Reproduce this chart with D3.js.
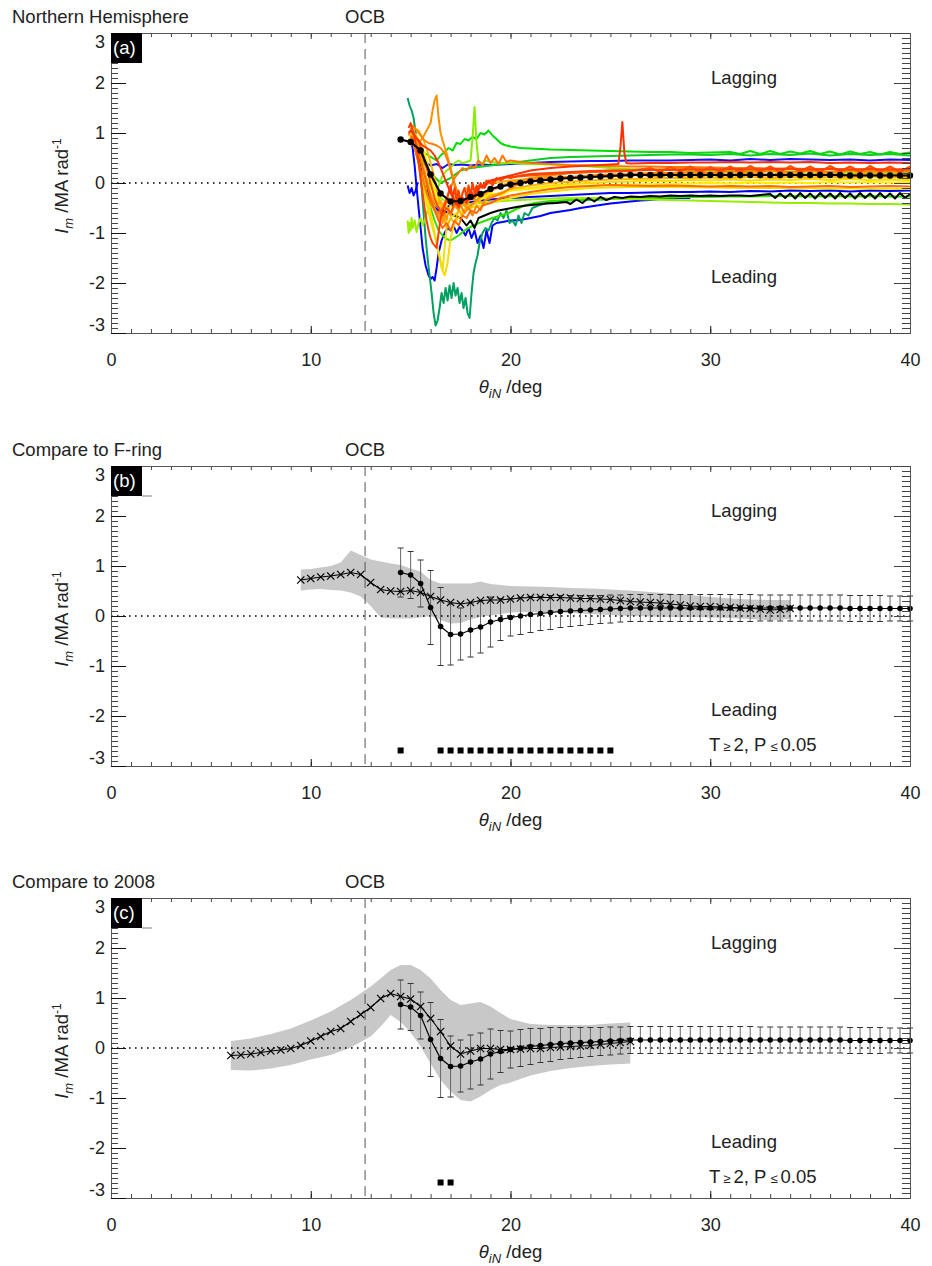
<!DOCTYPE html>
<html><head><meta charset="utf-8">
<script src="https://cdn.jsdelivr.net/npm/d3@7"></script>
<style>
body{margin:0;background:#fff}
svg{display:block}
text{font-family:"Liberation Sans",Arial,sans-serif;fill:#222}
</style></head>
<body><svg id="c" width="932" height="1266"></svg>
<script>
// ---------------- DATA ----------------
const xTicks = [0, 10, 20, 30, 40];
const yTicks = [-3, -2, -1, 0, 1, 2, 3];
const panelTitles = ["Northern Hemisphere", "Compare to F-ring", "Compare to 2008"];
const panelLabels = ["(a)", "(b)", "(c)"];
const ocbLat = 12.72;

// mean Northern Hemisphere profile (dots) and its error bars
const meanPts = [[14.5,0.87],[15,0.82],[15.5,0.65],[16,0.17],[16.5,-0.21],[17,-0.37],[17.5,-0.36],[18,-0.28],[18.5,-0.22],[19,-0.12],[19.5,-0.07],[20,-0.03],[20.5,0.0],[21,0.03],[21.5,0.05],[22,0.07],[22.5,0.09],[23,0.10],[23.5,0.11],[24,0.12],[24.5,0.13],[25,0.14],[25.5,0.15],[26,0.16],[26.5,0.16],[27,0.16],[27.5,0.16],[28,0.16],[28.5,0.16],[29,0.16],[29.5,0.16],[30,0.16],[30.5,0.16],[31,0.16],[31.5,0.16],[32,0.16],[32.5,0.16],[33,0.16],[33.5,0.16],[34,0.16],[34.5,0.16],[35,0.16],[35.5,0.16],[36,0.16],[36.5,0.16],[37,0.15],[37.5,0.15],[38,0.15],[38.5,0.15],[39,0.15],[39.5,0.15],[40,0.15]];
const meanErr = [0.49,0.47,0.47,0.74,0.78,0.61,0.52,0.54,0.52,0.50,0.42,0.37,0.37,0.36,0.34,0.34,0.32,0.31,0.30,0.29,0.28,0.28,0.27,0.27,0.27,0.27,0.27,0.27,0.27,0.27,0.27,0.27,0.27,0.27,0.27,0.27,0.26,0.26,0.26,0.26,0.26,0.26,0.26,0.26,0.26,0.26,0.26,0.26,0.26,0.25,0.25,0.25];

// F-ring comparison profile (crosses) and spread band
const fringPts = [[9.5,0.72],[10,0.75],[10.5,0.78],[11,0.80],[11.5,0.83],[12,0.87],[12.5,0.83],[13,0.67],[13.5,0.53],[14,0.50],[14.5,0.49],[15,0.51],[15.5,0.47],[16,0.39],[16.5,0.32],[17,0.27],[17.5,0.24],[18,0.27],[18.5,0.31],[19,0.32],[19.5,0.32],[20,0.34],[20.5,0.36],[21,0.37],[21.5,0.37],[22,0.37],[22.5,0.37],[23,0.36],[23.5,0.35],[24,0.35],[24.5,0.34],[25,0.33],[25.5,0.31],[26,0.29],[26.5,0.28],[27,0.27],[27.5,0.26],[28,0.24],[28.5,0.22],[29,0.20],[29.5,0.19],[30,0.19],[30.5,0.18],[31,0.17],[31.5,0.16],[32,0.15],[32.5,0.14],[33,0.12],[33.5,0.13],[34,0.15]];
const fringBandX = [9.5,10,10.5,11,11.5,12,12.5,13,13.5,14,14.5,15,15.5,16,16.5,17,17.5,18,18.5,19,19.5,20,21,22,23,24,25,26,27,28,29,30,31,32,33,34];
const fringBandHi = [0.93,0.94,0.97,1.0,1.07,1.31,1.22,1.13,1.09,1.05,1.02,0.95,0.89,0.72,0.65,0.65,0.65,0.65,0.69,0.64,0.62,0.60,0.59,0.58,0.56,0.55,0.53,0.51,0.48,0.45,0.42,0.38,0.35,0.33,0.32,0.32];
const fringBandLo = [0.51,0.53,0.54,0.52,0.51,0.47,0.39,0.20,-0.03,-0.05,-0.05,-0.05,-0.03,0.0,-0.08,-0.15,-0.14,-0.07,-0.02,0.01,0.04,0.07,0.08,0.07,0.06,0.04,0.02,0.0,-0.01,-0.02,-0.02,-0.03,-0.04,-0.06,-0.09,-0.06];
const fringSig = [14.5,16.5,17,17.5,18,18.5,19,19.5,20,20.5,21,21.5,22,22.5,23,23.5,24,24.5,25];

// 2008 comparison profile (crosses) and spread band
const y2008Pts = [[6,-0.15],[6.5,-0.14],[7,-0.12],[7.5,-0.09],[8,-0.06],[8.5,-0.04],[9,-0.01],[9.5,0.05],[10,0.14],[10.5,0.23],[11,0.33],[11.5,0.39],[12,0.53],[12.5,0.67],[13,0.81],[13.5,0.99],[14,1.09],[14.5,1.03],[15,0.98],[15.5,0.83],[16,0.59],[16.5,0.33],[17,0.04],[17.5,-0.12],[18,-0.06],[18.5,-0.01],[19,-0.01],[19.5,-0.03],[20,-0.03],[20.5,-0.02],[21,-0.01],[21.5,-0.01],[22,0.01],[22.5,0.02],[23,0.03],[23.5,0.04],[24,0.05],[24.5,0.07],[25,0.09],[25.5,0.11],[26,0.13]];
const y2008BandX = [6,7,8,9,10,11,12,13,13.5,14,14.5,15,15.5,16,16.5,17,17.5,18,18.5,19,19.5,20,21,22,23,24,25,26];
const y2008BandHi = [0.14,0.19,0.28,0.39,0.55,0.73,0.96,1.23,1.39,1.56,1.66,1.66,1.56,1.39,1.16,0.96,0.86,0.89,0.92,0.83,0.70,0.58,0.48,0.46,0.46,0.46,0.49,0.51];
const y2008BandLo = [-0.44,-0.45,-0.41,-0.34,-0.23,-0.14,0.01,0.23,0.43,0.66,0.52,0.31,0.03,-0.31,-0.64,-0.87,-1.04,-1.07,-0.97,-0.84,-0.74,-0.69,-0.55,-0.46,-0.40,-0.36,-0.33,-0.31];
const y2008Sig = [16.5, 17];

// individual Northern Hemisphere tracks (panel a)
const trackBlueA = [[15.0,0.85],[15.1,0.7],[15.2,0.35],[15.3,-0.1],[15.4,-0.5],[15.5,-0.9],[15.6,-1.3],[15.75,-1.65],[15.9,-1.85],[16.0,-1.92],[16.1,-1.88],[16.2,-1.95],[16.3,-1.7],[16.4,-1.4],[16.55,-1.15],[16.7,-1.0],[16.85,-0.9],[17.0,-0.95],[17.15,-0.85],[17.3,-1.0],[17.45,-0.88],[17.6,-0.95],[17.75,-1.05],[17.9,-0.9],[18.05,-1.1],[18.2,-0.95],[18.35,-1.2],[18.5,-1.05],[18.65,-1.3],[18.8,-0.95],[18.95,-1.2],[19.1,-0.85],[19.3,-0.8],[19.6,-0.78],[20.0,-0.75],[20.5,-0.74],[21.0,-0.7],[21.5,-0.66],[22.0,-0.6],[22.5,-0.57],[23.0,-0.54],[23.5,-0.5],[24.0,-0.47],[24.5,-0.44],[25.0,-0.41],[25.5,-0.39],[26,-0.37],[26.5,-0.35],[27,-0.34],[27.5,-0.32],[28,-0.31],[28.5,-0.3],[29,-0.3]];
const trackBlueB = [[15.0,0.9],[15.2,0.8],[15.4,0.6],[15.6,0.45],[15.8,0.4],[16.0,0.35],[16.3,0.38],[16.6,0.3],[16.9,0.38],[17.2,0.36],[17.6,0.37],[18.0,0.35],[18.5,0.37],[19.0,0.36],[19.5,0.37],[20.0,0.38],[21,0.4],[22,0.42],[23,0.43],[24,0.44],[25,0.44],[26,0.45],[27,0.45],[28,0.45],[29,0.46],[30,0.47],[31,0.45],[32,0.48],[33,0.46],[34,0.48],[35,0.47],[36,0.46],[37,0.47],[38,0.45],[39,0.47],[40,0.46]];
const trackBlueC = [[15.1,0.95],[15.3,0.7],[15.5,0.4],[15.7,0.0],[15.9,-0.3],[16.1,-0.45],[16.4,-0.55],[16.7,-0.5],[17,-0.45],[17.5,-0.4],[18,-0.38],[19,-0.33],[20,-0.3],[21,-0.28],[22,-0.26],[23,-0.24],[24,-0.22],[25,-0.2],[26,-0.2],[27,-0.19],[28,-0.18],[29,-0.18],[30,-0.17],[31,-0.18],[32,-0.16],[33,-0.17],[34,-0.15],[35,-0.16],[36,-0.15],[37,-0.17],[38,-0.15],[39,-0.16],[40,-0.15]];
const trackBlueStub = [[14.85,-0.05],[14.95,-0.2],[15.05,-0.1],[15.15,-0.25],[15.25,-0.15],[15.35,0.0]];
const trackTeal = [[14.85,1.7],[14.95,1.55],[15.05,1.45],[15.15,1.3],[15.25,1.0],[15.35,0.65],[15.45,0.3],[15.55,-0.1],[15.65,-0.6],[15.75,-1.1],[15.85,-1.5],[15.95,-1.85],[16.05,-2.2],[16.15,-2.6],[16.25,-2.85],[16.35,-2.75],[16.45,-2.5],[16.55,-2.2],[16.65,-2.4],[16.75,-2.1],[16.85,-2.35],[16.95,-2.05],[17.05,-2.3],[17.15,-2.0],[17.25,-2.25],[17.35,-2.1],[17.45,-2.4],[17.55,-2.2],[17.65,-2.5],[17.75,-2.3],[17.85,-2.6],[17.95,-2.7],[18.05,-2.2],[18.15,-1.8],[18.25,-1.6],[18.35,-1.45],[18.45,-1.2],[18.6,-1.0],[18.75,-0.9],[18.9,-0.95],[19.05,-0.8],[19.2,-0.7],[19.35,-0.75],[19.5,-0.6],[19.65,-0.7],[19.8,-0.55],[19.95,-0.8],[20.1,-0.75],[20.25,-0.85],[20.4,-0.65],[20.55,-0.8],[20.7,-0.6],[20.9,-0.65],[21.1,-0.5],[21.4,-0.45],[21.8,-0.4],[22.3,-0.37],[22.8,-0.35],[23.5,-0.34],[24.5,-0.33],[25.5,-0.31],[26.5,-0.3],[27.5,-0.29],[28.5,-0.28]];
const trackGreenTop = [[15.1,0.95],[15.3,0.85],[15.5,0.7],[15.7,0.6],[15.9,0.55],[16.1,0.5],[16.3,0.45],[16.5,0.55],[16.7,0.62],[16.9,0.7],[17.1,0.65],[17.3,0.8],[17.5,0.78],[17.7,0.88],[17.9,0.85],[18.1,0.92],[18.3,0.88],[18.5,1.0],[18.7,0.97],[18.9,1.05],[19.1,0.95],[19.3,0.88],[19.5,0.8],[19.7,0.76],[20,0.73],[20.5,0.7],[21,0.69],[22,0.67],[23,0.66],[24,0.65],[25,0.64],[26,0.63],[27,0.62],[28,0.62],[29,0.6],[30,0.61],[31,0.62],[31.5,0.58],[32,0.64],[32.5,0.58],[33,0.64],[33.5,0.58],[34,0.63],[34.5,0.59],[35,0.64],[35.5,0.58],[36,0.63],[36.5,0.57],[37,0.63],[37.5,0.58],[38,0.62],[38.5,0.57],[39,0.62],[39.5,0.58],[40,0.61]];
const trackGreenMid = [[15.2,0.8],[15.5,0.5],[16,0.2],[16.5,0.0],[17,0.1],[17.5,0.25],[18,0.3],[19,0.35],[20,0.4],[21,0.45],[22,0.5],[23,0.52],[24,0.53],[25,0.54],[26,0.55],[27,0.56],[28,0.57],[29,0.57],[30,0.56],[31,0.58],[32,0.55],[33,0.58],[34,0.56],[35,0.59],[36,0.55],[37,0.58],[38,0.56],[39,0.58],[40,0.55]];
const trackGreenLow = [[15.2,0.7],[15.4,0.4],[15.6,0.1],[15.8,-0.2],[16.0,-0.5],[16.2,-0.75],[16.4,-0.95],[16.6,-1.05],[16.8,-1.12],[17.0,-1.15],[17.2,-1.1],[17.4,-1.05],[17.6,-0.98],[17.8,-0.92],[18.0,-0.88],[18.3,-0.82],[18.7,-0.76],[19.1,-0.7],[19.5,-0.65],[19.9,-0.6],[20.3,-0.52],[20.7,-0.45],[21.2,-0.4],[22,-0.36],[23,-0.34],[24,-0.33],[25,-0.32],[26,-0.31],[27,-0.3],[28,-0.29],[29,-0.28],[30,-0.28],[31,-0.27],[32,-0.27],[33,-0.26],[34,-0.26],[35,-0.27],[36,-0.26],[37,-0.27],[38,-0.26],[39,-0.27],[40,-0.27]];
const trackLimeSpike = [[15.2,0.85],[15.4,0.6],[15.6,0.35],[15.8,0.1],[16.0,-0.1],[16.2,-0.2],[16.4,-0.05],[16.6,0.15],[16.8,0.25],[17.0,0.3],[17.2,0.4],[17.4,0.45],[17.6,0.4],[17.8,0.42],[18.0,0.45],[18.1,0.9],[18.2,1.52],[18.3,0.8],[18.4,0.42],[18.6,0.4],[18.8,0.45],[19.0,0.42],[19.5,0.4],[20,0.4],[21,0.38],[22,0.37],[23,0.35],[24,0.33],[25,0.3],[26,0.28],[27,0.27],[28,0.26],[29,0.26],[30,0.25],[31,0.25],[32,0.24],[33,0.24],[34,0.23],[35,0.23],[36,0.22],[37,0.22],[38,0.21],[39,0.21],[40,0.2]];
const trackLimeLow = [[14.85,-0.75],[14.9,-1.0],[14.95,-0.8],[15.0,-0.95],[15.05,-0.7],[15.1,-0.9],[15.2,-0.75],[15.3,-0.98],[15.4,-0.8],[15.5,-0.7],[15.6,-0.85],[15.7,-0.75],[15.8,-0.6],[16.0,-0.45],[16.2,-0.35],[16.5,-0.3],[16.8,-0.38],[17.2,-0.42],[17.6,-0.45],[18,-0.42],[18.5,-0.4],[19,-0.38],[20,-0.35],[21,-0.33],[22,-0.31],[23,-0.3],[24,-0.3],[25,-0.31],[26,-0.32],[27,-0.33],[28,-0.34],[29,-0.35],[30,-0.36],[31,-0.37],[32,-0.38],[33,-0.39],[34,-0.4],[35,-0.4],[36,-0.41],[37,-0.41],[38,-0.42],[39,-0.42],[40,-0.43]];
const trackBlack = [[15.0,0.85],[15.2,0.75],[15.4,0.5],[15.6,0.2],[15.8,-0.1],[16.0,-0.3],[16.3,-0.45],[16.6,-0.55],[16.9,-0.6],[17.2,-0.65],[17.5,-0.7],[17.8,-0.85],[18.0,-0.75],[18.2,-0.9],[18.4,-0.7],[18.7,-0.65],[19,-0.6],[19.4,-0.55],[19.8,-0.52],[20.3,-0.48],[20.8,-0.45],[21.3,-0.43],[21.8,-0.41],[22.3,-0.4],[22.8,-0.38],[23.0,-0.42],[23.3,-0.33],[23.6,-0.4],[23.9,-0.3],[24.2,-0.37],[24.5,-0.28],[24.8,-0.34],[25.2,-0.28],[25.6,-0.3],[26,-0.27],[26.5,-0.28],[27,-0.26],[27.5,-0.27],[28,-0.25],[28.5,-0.26],[29,-0.25],[29.5,-0.26],[30,-0.25],[30.5,-0.26],[31,-0.25],[31.5,-0.25],[32,-0.26],[32.5,-0.24],[33,-0.22],[33.25,-0.3],[33.5,-0.21],[33.75,-0.3],[34,-0.21],[34.25,-0.31],[34.5,-0.2],[34.75,-0.3],[35,-0.21],[35.25,-0.31],[35.5,-0.2],[35.75,-0.3],[36,-0.21],[36.25,-0.31],[36.5,-0.2],[36.75,-0.3],[37,-0.21],[37.25,-0.31],[37.5,-0.2],[37.75,-0.3],[38,-0.21],[38.25,-0.31],[38.5,-0.2],[38.75,-0.3],[39,-0.21],[39.25,-0.31],[39.5,-0.2],[39.75,-0.3],[40,-0.22]];
const trackYellowDip = [[15.0,1.0],[15.2,0.9],[15.4,0.7],[15.6,0.3],[15.8,-0.2],[16.0,-0.6],[16.2,-1.0],[16.4,-1.4],[16.55,-1.7],[16.7,-1.85],[16.85,-1.6],[17.0,-1.1],[17.2,-0.8],[17.4,-0.7],[17.6,-0.6],[17.8,-0.5],[18.0,-0.45],[18.3,-0.4],[18.6,-0.3],[19,-0.25],[19.5,-0.2],[20,-0.15],[21,-0.1],[22,-0.05],[23,-0.02],[24,0.0],[25,0.02],[26,0.03],[27,0.05],[28,0.04],[29,0.06],[30,0.05],[31,0.07],[32,0.05],[33,0.07],[34,0.06],[35,0.08],[36,0.06],[37,0.08],[38,0.06],[39,0.07],[40,0.06]];
const trackYellowLow = [[15.1,0.9],[15.3,0.6],[15.5,0.2],[15.7,-0.2],[15.9,-0.6],[16.1,-0.9],[16.3,-1.2],[16.5,-1.55],[16.6,-1.75],[16.7,-1.3],[16.8,-0.9],[17.0,-0.7],[17.3,-0.6],[17.6,-0.55],[18,-0.5],[18.5,-0.45],[19,-0.4],[20,-0.3],[21,-0.22],[22,-0.17],[23,-0.13],[24,-0.1],[25,-0.09],[26,-0.08],[28,-0.08],[30,-0.09],[32,-0.1],[34,-0.1],[36,-0.11],[38,-0.11],[40,-0.12]];
const trackYellow = [[14.9,0.85],[15.1,1.0],[15.3,0.95],[15.5,0.8],[15.7,0.6],[15.9,0.3],[16.1,0.0],[16.3,-0.3],[16.5,-0.5],[16.7,-0.4],[16.9,-0.55],[17.1,-0.35],[17.3,-0.5],[17.5,-0.3],[17.8,-0.4],[18.1,-0.25],[18.5,-0.3],[19,-0.2],[19.5,-0.25],[20,-0.15],[21,-0.12],[22,-0.08],[23,-0.06],[24,-0.05],[25,-0.04],[26,-0.03],[27,-0.02],[28,-0.02],[29,-0.01],[30,0.0],[31,-0.01],[32,0.01],[33,0.0],[34,0.01],[35,0.0],[36,0.02],[37,0.01],[38,0.02],[39,0.01],[40,0.02]];
const trackAmber = [[15.0,0.9],[15.2,1.1],[15.4,1.05],[15.6,0.9],[15.8,0.7],[16.0,0.4],[16.2,0.1],[16.4,-0.3],[16.6,-0.6],[16.8,-0.9],[17.0,-0.7],[17.2,-0.8],[17.4,-0.55],[17.6,-0.65],[17.8,-0.45],[18.0,-0.5],[18.3,-0.35],[18.6,-0.4],[19,-0.25],[19.5,-0.2],[20,-0.12],[21,-0.05],[22,0.0],[23,0.03],[24,0.05],[25,0.07],[26,0.08],[27,0.09],[28,0.1],[29,0.1],[30,0.11],[31,0.1],[32,0.12],[33,0.1],[34,0.12],[35,0.11],[36,0.12],[37,0.11],[38,0.13],[39,0.11],[40,0.12]];
const trackAmberNoisy = [[15.1,0.9],[15.3,0.8],[15.5,0.55],[15.7,0.2],[15.9,-0.1],[16.1,-0.3],[16.3,-0.45],[16.5,-0.35],[16.7,-0.5],[16.9,-0.3],[17.1,-0.4],[17.3,-0.2],[17.5,-0.3],[17.7,-0.1],[18,-0.15],[18.5,-0.05],[19,0.0],[19.5,0.02],[20,0.05],[21,0.08],[22,0.1],[23,0.12],[24,0.13],[25,0.14],[26,0.15],[27,0.16],[27.5,0.1],[28,0.2],[28.5,0.1],[29,0.2],[29.5,0.1],[30,0.21],[30.5,0.1],[31,0.2],[31.5,0.1],[32,0.21],[32.5,0.11],[33,0.2],[33.5,0.1],[34,0.21],[34.5,0.1],[35,0.2],[35.5,0.11],[36,0.21],[36.5,0.1],[37,0.2],[37.5,0.11],[38,0.21],[38.5,0.1],[39,0.2],[39.5,0.11],[40,0.2]];
const trackOrangeSpike = [[15.0,0.75],[15.2,0.85],[15.4,0.8],[15.6,0.9],[15.8,1.05],[16.0,1.2],[16.1,1.45],[16.2,1.65],[16.3,1.75],[16.4,1.3],[16.5,1.0],[16.6,0.85],[16.8,0.6],[17.0,0.3],[17.2,0.0],[17.4,-0.25],[17.6,-0.4],[17.8,-0.5],[18.0,-0.45],[18.3,-0.35],[18.6,-0.25],[19,-0.15],[19.5,-0.08],[20,0.0],[21,0.1],[22,0.15],[23,0.2],[24,0.22],[25,0.25],[26,0.26],[27,0.27],[28,0.28],[29,0.28],[30,0.3],[30.5,0.22],[31,0.32],[31.5,0.24],[32,0.33],[32.5,0.24],[33,0.32],[33.5,0.23],[34,0.33],[34.5,0.24],[35,0.32],[35.5,0.23],[36,0.33],[36.5,0.24],[37,0.32],[37.5,0.23],[38,0.32],[38.5,0.24],[39,0.31],[39.5,0.23],[40,0.3]];
const trackOrangeMid = [[15.0,1.1],[15.2,1.0],[15.4,0.75],[15.6,0.4],[15.8,0.05],[16.0,-0.25],[16.2,-0.5],[16.4,-0.7],[16.5,-0.55],[16.6,-0.8],[16.7,-0.6],[16.8,-0.75],[16.9,-0.5],[17.0,-0.65],[17.2,-0.45],[17.4,-0.55],[17.6,-0.35],[17.8,-0.45],[18.0,-0.3],[18.3,-0.35],[18.6,-0.2],[19,-0.15],[19.5,-0.05],[20,0.0],[21,0.05],[22,0.08],[23,0.1],[24,0.12],[25,0.13],[26,0.14],[26.5,0.2],[27,0.12],[27.5,0.22],[28,0.13],[28.5,0.22],[29,0.12],[29.5,0.23],[30,0.13],[30.5,0.22],[31,0.12],[31.5,0.23],[32,0.13],[32.5,0.22],[33,0.12],[33.5,0.23],[34,0.13],[34.5,0.22],[35,0.12],[35.5,0.23],[36,0.13],[36.5,0.22],[37,0.12],[37.5,0.23],[38,0.13],[38.5,0.22],[39,0.12],[39.5,0.23],[40,0.13]];
const trackOrange = [[14.9,0.95],[15.1,1.15],[15.3,1.05],[15.5,0.95],[15.7,0.85],[15.9,0.8],[16.1,0.78],[16.3,0.75],[16.5,0.7],[16.7,0.6],[16.9,0.4],[17.1,0.1],[17.3,-0.2],[17.5,-0.45],[17.7,-0.6],[17.9,-0.5],[18.1,-0.65],[18.3,-0.45],[18.5,-0.55],[18.7,-0.35],[19,-0.3],[19.3,-0.25],[19.7,-0.18],[20,-0.1],[20.5,0.0],[21,0.05],[22,0.1],[23,0.12],[24,0.15],[25,0.17],[26,0.18],[27,0.2],[28,0.2],[29,0.22],[30,0.21],[31,0.23],[32,0.22],[33,0.24],[34,0.22],[35,0.24],[36,0.22],[37,0.25],[38,0.23],[39,0.24],[40,0.23]];
const trackOrangeHigh = [[15.0,0.9],[15.2,0.7],[15.4,0.4],[15.6,0.1],[15.8,-0.2],[16.0,-0.4],[16.2,-0.55],[16.4,-0.6],[16.6,-0.5],[16.8,-0.3],[17.0,-0.1],[17.2,0.1],[17.4,0.2],[17.6,0.3],[17.8,0.25],[18.0,0.35],[18.2,0.3],[18.4,0.45],[18.6,0.35],[18.8,0.55],[19.0,0.4],[19.2,0.5],[19.4,0.38],[19.6,0.55],[19.8,0.42],[20.0,0.45],[20.5,0.42],[21,0.4],[22,0.38],[23,0.36],[24,0.35],[25,0.34],[26,0.33],[27,0.33],[28,0.32],[29,0.32],[30,0.31],[31,0.3],[32,0.3],[33,0.29],[34,0.29],[35,0.28],[36,0.28],[37,0.27],[38,0.27],[39,0.26],[40,0.26]];
const trackOrangeLow = [[15.0,0.95],[15.2,0.85],[15.4,0.6],[15.6,0.3],[15.8,0.0],[16.0,-0.3],[16.2,-0.55],[16.4,-0.75],[16.6,-0.9],[16.8,-0.8],[17.0,-0.95],[17.2,-0.75],[17.4,-0.85],[17.6,-0.65],[17.8,-0.7],[18.0,-0.55],[18.3,-0.6],[18.6,-0.45],[19,-0.4],[19.5,-0.3],[20,-0.25],[21,-0.18],[22,-0.12],[23,-0.08],[24,-0.06],[25,-0.04],[26,-0.05],[27,-0.06],[28,-0.05],[29,-0.06],[30,-0.07],[31,-0.06],[32,-0.07],[33,-0.06],[34,-0.08],[35,-0.07],[36,-0.06],[37,-0.08],[38,-0.07],[39,-0.06],[40,-0.07]];
const trackRedMid = [[15.0,0.8],[15.2,0.9],[15.4,0.85],[15.6,0.6],[15.8,0.3],[16.0,0.0],[16.2,-0.3],[16.4,-0.5],[16.6,-0.65],[16.8,-0.5],[17.0,-0.6],[17.2,-0.4],[17.4,-0.5],[17.6,-0.3],[17.8,-0.35],[18.0,-0.15],[18.2,-0.25],[18.4,-0.05],[18.6,-0.1],[18.8,0.05],[19,0.0],[19.5,0.1],[20,0.12],[21,0.15],[22,0.18],[23,0.2],[24,0.22],[25,0.23],[26,0.24],[27,0.3],[27.5,0.22],[28,0.32],[28.5,0.23],[29,0.33],[29.5,0.22],[30,0.32],[30.5,0.23],[31,0.33],[31.5,0.22],[32,0.34],[32.5,0.23],[33,0.33],[33.5,0.22],[34,0.34],[34.5,0.23],[35,0.33],[35.5,0.22],[36,0.34],[36.5,0.23],[37,0.33],[37.5,0.22],[38,0.34],[38.5,0.23],[39,0.33],[39.5,0.22],[40,0.33]];
const trackRedDip = [[14.9,1.1],[15.0,1.2],[15.1,1.05],[15.2,0.9],[15.3,0.7],[15.4,0.4],[15.5,0.1],[15.6,-0.2],[15.7,-0.5],[15.8,-0.75],[15.9,-0.95],[16.0,-1.1],[16.1,-1.2],[16.2,-1.25],[16.3,-1.3],[16.4,-1.0],[16.5,-0.7],[16.6,-0.55],[16.7,-0.45],[16.8,-0.35],[16.9,-0.2],[17.0,-0.05],[17.1,-0.3],[17.2,-0.1],[17.3,-0.35],[17.4,-0.15],[17.5,-0.4],[17.6,-0.2],[17.7,-0.1],[17.8,-0.3],[17.9,-0.05],[18.0,-0.25],[18.1,0.0],[18.2,-0.2],[18.3,-0.05],[18.4,-0.15],[18.5,0.0],[18.7,-0.1],[18.9,0.05],[19.1,-0.05],[19.3,0.1],[19.5,0.05],[19.8,0.12],[20,0.1],[20.5,0.15],[21,0.18],[22,0.2],[23,0.22],[24,0.24],[25,0.25],[26,0.25],[27,0.26],[28,0.26],[29,0.27],[30,0.27],[31,0.28],[32,0.27],[33,0.28],[34,0.28],[35,0.27],[36,0.28],[37,0.27],[38,0.28],[39,0.27],[40,0.28]];
const trackRedSpike = [[14.9,1.0],[15.0,1.05],[15.2,0.95],[15.4,0.85],[15.6,0.75],[15.8,0.7],[16.0,0.65],[16.2,0.55],[16.4,0.4],[16.6,0.2],[16.8,0.0],[17.0,-0.2],[17.2,-0.35],[17.4,-0.45],[17.6,-0.3],[17.8,-0.4],[18.0,-0.2],[18.2,-0.3],[18.4,-0.1],[18.7,-0.05],[19,0.05],[19.5,0.1],[20,0.15],[20.5,0.2],[21,0.25],[22,0.3],[23,0.33],[24,0.35],[25,0.37],[25.4,0.38],[25.5,0.7],[25.6,1.22],[25.7,0.6],[25.8,0.4],[26,0.39],[27,0.4],[28,0.4],[29,0.41],[30,0.41],[31,0.42],[32,0.41],[33,0.42],[34,0.41],[35,0.42],[36,0.4],[37,0.41],[38,0.4],[39,0.41],[40,0.4]];

const tracks = [trackBlueA, trackBlueB, trackBlueC, trackBlueStub, trackTeal, trackGreenTop, trackGreenMid, trackGreenLow, trackLimeSpike, trackLimeLow, trackBlack, trackYellowDip, trackYellowLow, trackYellow, trackAmber, trackAmberNoisy, trackOrangeSpike, trackOrangeMid, trackOrange, trackOrangeHigh, trackOrangeLow, trackRedMid, trackRedDip, trackRedSpike];
const trackColors = ["#0000ff","#1010ff","#0000ee","#0000ff","#00a060","#00dd00","#10cc20","#33dd00","#88ee00","#99ee00","#000000","#ffd800","#f0e000","#ffee00","#ffb400","#ffaa00","#ff9000","#ff9a00","#ff8000","#ff7800","#ff6a00","#ff5000","#ff4000","#ff3000"];

// ---------------- DRAWING ----------------
const svg = d3.select("#c");
const X0 = 111, X1 = 910, H = 300;
const panelTops = [33, 466, 898];
const FS = "18.5px";
const x = d3.scaleLinear().domain([0, 40]).range([X0, X1]);
const fmt = d => String(d);

function frame(g, y, top, idx) {
  const bottom = top + H;
  const axisStyle = sel => { sel.select(".domain").attr("stroke", "#555"); sel.selectAll(".tick line").attr("stroke", "#444"); sel.selectAll("text").style("font-size", "18px").attr("fill", "#222").style("font-family", '"Liberation Sans",Arial,sans-serif'); };
  const minorX = d3.range(0, 41, 1);
  const minorY = d3.range(-30, 31, 1).map(v => v / 10);
  g.append("g").attr("transform", `translate(0,${bottom})`).call(d3.axisBottom(x).tickValues(minorX).tickSize(-4).tickSizeOuter(0).tickFormat("")).call(axisStyle);
  g.append("g").attr("transform", `translate(0,${bottom})`).call(d3.axisBottom(x).tickValues(xTicks).tickSize(-7).tickSizeOuter(0).tickPadding(20).tickFormat(fmt)).call(axisStyle).call(s => s.selectAll(".tick line").attr("stroke", "#111"));
  g.append("g").attr("transform", `translate(0,${top})`).call(d3.axisTop(x).tickValues(minorX).tickSize(-4).tickSizeOuter(0).tickFormat("")).call(axisStyle);
  g.append("g").attr("transform", `translate(0,${top})`).call(d3.axisTop(x).tickValues(xTicks).tickSize(-6).tickSizeOuter(0).tickFormat("")).call(axisStyle);
  g.append("g").attr("transform", `translate(${X0},0)`).call(d3.axisLeft(y).tickValues(minorY).tickSize(-7).tickSizeOuter(0).tickFormat("")).call(axisStyle);
  const yl = g.append("g").attr("transform", `translate(${X0},0)`).call(d3.axisLeft(y).tickValues(yTicks).tickSize(-15).tickSizeOuter(0).tickPadding(6).tickFormat(fmt)).call(axisStyle).call(s => s.selectAll(".tick line").attr("stroke", "#111"));
  // IDL keeps the end labels inside the frame
  yl.selectAll(".tick text").attr("dy", d => d === 3 ? "0.82em" : d === -3 ? "-0.12em" : "0.32em");
  g.append("g").attr("transform", `translate(${X1},0)`).call(d3.axisRight(y).tickValues(minorY).tickSize(-8).tickSizeOuter(0).tickFormat("")).call(axisStyle);
  g.append("g").attr("transform", `translate(${X1},0)`).call(d3.axisRight(y).tickValues(yTicks).tickSize(-16).tickSizeOuter(0).tickFormat("")).call(axisStyle);

  // panel label box
  g.append("rect").attr("x", X0).attr("y", top).attr("width", 31).attr("height", 30).attr("fill", "#000");
  g.append("text").attr("x", X0 + 2).attr("y", top + 21).style("font-size", FS).style("fill", "#fff").text(panelLabels[idx]);
  if (idx > 0) g.append("line").attr("x1", X0 + 31).attr("x2", X0 + 41).attr("y1", top + 30).attr("y2", top + 30).attr("stroke", "#aaa").attr("stroke-width", 1.5);

  // titles
  g.append("text").attr("x", 12).attr("y", top - 10).style("font-size", FS).text(panelTitles[idx]);
  g.append("text").attr("x", x(ocbLat)).attr("y", top - 10).attr("text-anchor", "middle").style("font-size", FS).text("OCB");
  g.append("text").attr("x", 744).attr("y", y(1.98)).attr("text-anchor", "middle").style("font-size", FS).text("Lagging");
  g.append("text").attr("x", 744).attr("y", y(-2.0)).attr("text-anchor", "middle").style("font-size", FS).text("Leading");

  // x title
  const xt = g.append("text").attr("x", x(20)).attr("y", bottom + 60).attr("text-anchor", "middle").style("font-size", FS);
  xt.append("tspan").style("font-style", "italic").text("θ");
  xt.append("tspan").style("font-style", "italic").style("font-size", "13px").attr("dy", 5).text("iN");
  xt.append("tspan").attr("dy", -5).text(" /deg");
  // y title
  const yt = g.append("text").attr("transform", `translate(68,${y(0) + 3}) rotate(-90)`).attr("text-anchor", "middle").style("font-size", FS);
  yt.append("tspan").style("font-style", "italic").text("I");
  yt.append("tspan").style("font-style", "italic").style("font-size", "13px").attr("dy", 5).text("m");
  yt.append("tspan").attr("dy", -5).text(" /MA rad");
  yt.append("tspan").style("font-size", "12px").attr("dy", -7).text("-1");
}

function refLines(g, y, top) {
  g.append("line").attr("x1", X0).attr("x2", X1).attr("y1", y(0)).attr("y2", y(0))
    .attr("stroke", "#000").attr("stroke-width", 1.6).attr("stroke-dasharray", "1.6,4.4");
  g.append("line").attr("x1", x(ocbLat)).attr("x2", x(ocbLat)).attr("y1", top).attr("y2", top + H)
    .attr("stroke", "#555").attr("stroke-width", 1).attr("stroke-dasharray", "10,6");
}

function meanProfile(g, y, thick) {
  const line = d3.line().x(d => x(d[0])).y(d => y(d[1]));
  g.append("path").attr("d", line(meanPts)).attr("fill", "none").attr("stroke", "#000").attr("stroke-width", thick ? 2.2 : 1.2);
  g.selectAll(null).data(meanPts).enter().append("circle").attr("cx", d => x(d[0])).attr("cy", d => y(d[1])).attr("r", thick ? 3.2 : 2.8).attr("fill", "#000");
}

function errorBars(g, y) {
  const eb = g.append("g").attr("stroke", "#666").attr("stroke-width", 1);
  meanPts.forEach((d, i) => {
    const e = meanErr[i], cx = x(d[0]);
    eb.append("line").attr("x1", cx).attr("x2", cx).attr("y1", y(d[1] - e)).attr("y2", y(d[1] + e));
    eb.append("line").attr("x1", cx - 3).attr("x2", cx + 3).attr("y1", y(d[1] - e)).attr("y2", y(d[1] - e)).attr("stroke", "#333");
    eb.append("line").attr("x1", cx - 3).attr("x2", cx + 3).attr("y1", y(d[1] + e)).attr("y2", y(d[1] + e)).attr("stroke", "#333");
  });
}

function band(g, y, bx, hi, lo) {
  const area = d3.area().x((d, i) => x(bx[i])).y0((d, i) => y(lo[i])).y1((d, i) => y(hi[i]));
  g.append("path").attr("d", area(bx)).attr("fill", "#c8c8c8");
}

function crosses(g, y, pts) {
  const line = d3.line().x(d => x(d[0])).y(d => y(d[1]));
  g.append("path").attr("d", line(pts)).attr("fill", "none").attr("stroke", "#000").attr("stroke-width", 1.1);
  const s = 3.6;
  const cg = g.append("g").attr("stroke", "#000").attr("stroke-width", 1.2);
  pts.forEach(d => {
    const cx = x(d[0]), cy = y(d[1]);
    cg.append("path").attr("d", `M${cx - s},${cy - s}L${cx + s},${cy + s}M${cx - s},${cy + s}L${cx + s},${cy - s}`);
  });
}

function sigMarks(g, y, sig) {
  g.selectAll(null).data(sig).enter().append("rect")
    .attr("x", d => x(d) - 3).attr("y", y(-2.69) - 3).attr("width", 6).attr("height", 6).attr("fill", "#000");
  const t = g.append("text").attr("x", 709).attr("y", y(-2.69)).style("font-size", FS);
  t.append("tspan").text("T");
  t.append("tspan").attr("dx", 3).style("font-size", "13px").text("≥");
  t.append("tspan").attr("dx", 3).text("2, P");
  t.append("tspan").attr("dx", 4).style("font-size", "13px").text("≤");
  t.append("tspan").attr("dx", 3).text("0.05");
}

// Panel (a)
{
  const top = panelTops[0];
  const y = d3.scaleLinear().domain([-3, 3]).range([top + H, top]);
  const g = svg.append("g");
  refLines(g, y, top);
  const line = d3.line().x(d => x(d[0])).y(d => y(d[1]));
  tracks.forEach((t, i) => g.append("path").attr("d", line(t)).attr("fill", "none").attr("stroke", trackColors[i]).attr("stroke-width", 2).attr("stroke-linejoin", "round"));
  meanProfile(g, y, true);
  frame(g, y, top, 0);
}
// Panel (b)
{
  const top = panelTops[1];
  const y = d3.scaleLinear().domain([-3, 3]).range([top + H, top]);
  const g = svg.append("g");
  band(g, y, fringBandX, fringBandHi, fringBandLo);
  refLines(g, y, top);
  errorBars(g, y);
  meanProfile(g, y, false);
  crosses(g, y, fringPts);
  sigMarks(g, y, fringSig);
  frame(g, y, top, 1);
}
// Panel (c)
{
  const top = panelTops[2];
  const y = d3.scaleLinear().domain([-3, 3]).range([top + H, top]);
  const g = svg.append("g");
  band(g, y, y2008BandX, y2008BandHi, y2008BandLo);
  refLines(g, y, top);
  errorBars(g, y);
  meanProfile(g, y, false);
  crosses(g, y, y2008Pts);
  sigMarks(g, y, y2008Sig);
  frame(g, y, top, 2);
}
</script>
</body></html>
